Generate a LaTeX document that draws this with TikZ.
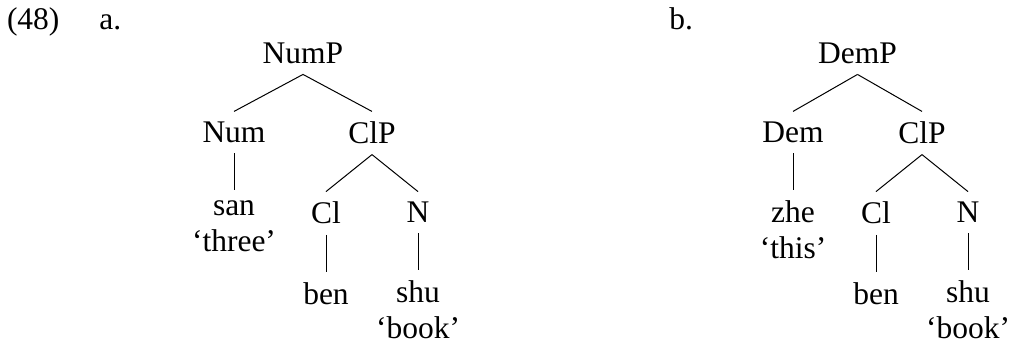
\documentclass[tikz,border=0pt]{standalone}
\usepackage{fontspec}
\setmainfont{Liberation Serif}
\usepackage{tikz}
\usetikzlibrary{positioning}
\tikzstyle{cat} = [font=\fontsize{31.5}{36}\selectfont, inner sep=10.5pt, outer sep=0pt, align=center]
\tikzstyle{exnum} = [font=\fontsize{31.5}{36}\selectfont, inner sep=0pt, outer sep=0pt]
\tikzstyle{branch} = [line width=1pt]

\begin{document}
\begin{tikzpicture}[x=1pt, y=1pt, node distance=37pt]
    \useasboundingbox (0,0) rectangle (1009,-344);
    \node (ex) [exnum, anchor=base west] at (7,-30) {(48)};
    \node (suba) [exnum, base right=40pt of ex] {a.};
    \node (subb) [exnum, base right=548pt of suba] {b.};

    % (48a) numeral + classifier
    \node (nump) [cat, anchor=north] at (303,-32.5) {NumP};
    \node (num) [cat, below=of nump, xshift=-69pt] {Num};
    \node (clpa) [cat, below=of nump, xshift=69pt] {ClP};
    \node (san) [cat, below=of num] {san\\`three'};
    \node (cla) [cat, below=of clpa, xshift=-46pt] {Cl};
    \node (na) [cat, below=of clpa, xshift=46pt] {N};
    \node (bena) [cat, below=of cla] {ben};
    \node (shua) [cat, below=of na] {shu\\`book'};

    % (48b) demonstrative + classifier
    \node (demp) [cat, anchor=north] at (857.5,-32.5) {DemP};
    \node (dem) [cat, below=of demp, xshift=-64.5pt] {Dem};
    \node (clpb) [cat, below=of demp, xshift=64.5pt] {ClP};
    \node (zhe) [cat, below=of dem] {zhe\\`this'};
    \node (clb) [cat, below=of clpb, xshift=-46pt] {Cl};
    \node (nb) [cat, below=of clpb, xshift=46pt] {N};
    \node (benb) [cat, below=of clb] {ben};
    \node (shub) [cat, below=of nb] {shu\\`book'};

    \draw [branch] (nump.south) -- (num.north);
    \draw [branch] (nump.south) -- (clpa.north);
    \draw [branch] (num.south) -- (san.north);
    \draw [branch] (clpa.south) -- (cla.north);
    \draw [branch] (clpa.south) -- (na.north);
    \draw [branch] (cla.south) -- (bena.north);
    \draw [branch] (na.south) -- (shua.north);

    \draw [branch] (demp.south) -- (dem.north);
    \draw [branch] (demp.south) -- (clpb.north);
    \draw [branch] (dem.south) -- (zhe.north);
    \draw [branch] (clpb.south) -- (clb.north);
    \draw [branch] (clpb.south) -- (nb.north);
    \draw [branch] (clb.south) -- (benb.north);
    \draw [branch] (nb.south) -- (shub.north);
\end{tikzpicture}
\end{document}
